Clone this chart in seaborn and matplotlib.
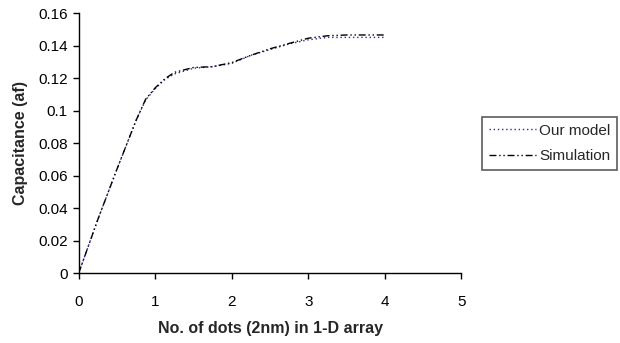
import pandas as pd
import matplotlib.pyplot as plt
import seaborn as sns

# number of dots (2nm) in 1-D array
dots = [0, 0.25, 0.5, 0.75, 0.875, 1.0, 1.125, 1.25, 1.5, 1.75, 2.0, 2.25, 2.5, 2.75, 3.0, 3.25, 3.5, 3.75, 4.0]
our_model = [0, 0.033, 0.064, 0.094, 0.1065, 0.1135, 0.119, 0.1225, 0.126, 0.127, 0.129, 0.134, 0.1375, 0.141, 0.1435, 0.145, 0.145, 0.145, 0.145]
simulation = [0, 0.033, 0.064, 0.094, 0.107, 0.114, 0.1195, 0.1235, 0.1265, 0.127, 0.1295, 0.134, 0.138, 0.1413, 0.1445, 0.146, 0.1465, 0.1465, 0.1465]

df = pd.DataFrame({"dots": dots * 2,
                   "cap": our_model + simulation,
                   "series": ["Our model"] * len(dots) + ["Simulation"] * len(dots)})

sns.set_style("ticks")
plt.rcParams["font.family"] = ["Liberation Sans", "DejaVu Sans"]

fig = plt.figure(figsize=(6.2, 3.43), dpi=100)
ax = fig.add_axes([0.127, 0.204, 0.617, 0.758])

sns.lineplot(data=df, x="dots", y="cap", hue="series", style="series",
             palette={"Our model": "#2b2b9a", "Simulation": "black"},
             dashes={"Our model": (1, 2), "Simulation": (5, 2, 1, 2, 1, 2)},
             linewidth=1.0, ax=ax, legend=True)

ax.set_xlim(0, 5)
ax.set_ylim(0, 0.16)
ax.set_xticks([0, 1, 2, 3, 4, 5])
ax.set_yticks([0, 0.02, 0.04, 0.06, 0.08, 0.1, 0.12, 0.14, 0.16])
ax.set_yticklabels(["0", "0.02", "0.04", "0.06", "0.08", "0.1", "0.12", "0.14", "0.16"])
ax.tick_params(labelsize=11, length=4.5, width=1, color="black", labelcolor="black")
ax.tick_params(axis="x", pad=11)
ax.tick_params(axis="y", pad=3.5)
for s in ["left", "bottom"]:
    ax.spines[s].set_color("black")
    ax.spines[s].set_linewidth(1)
sns.despine(ax=ax)

ax.set_xlabel("No. of dots (2nm) in 1-D array", fontsize=11.5, fontweight="bold", labelpad=9)
ax.set_ylabel("Capacitance (af)", fontsize=11.5, fontweight="bold", labelpad=7)

leg = ax.legend(loc="upper left", bbox_to_anchor=(0.777, 0.659), bbox_transform=fig.transFigure,
                frameon=True, fancybox=False, fontsize=11, handlelength=3.1,
                handletextpad=0.2, borderpad=0.45, borderaxespad=0, labelspacing=0.75)
leg.get_frame().set_edgecolor("#333333")
leg.get_frame().set_linewidth(1.2)

fig.savefig("out.png", dpi=100)
